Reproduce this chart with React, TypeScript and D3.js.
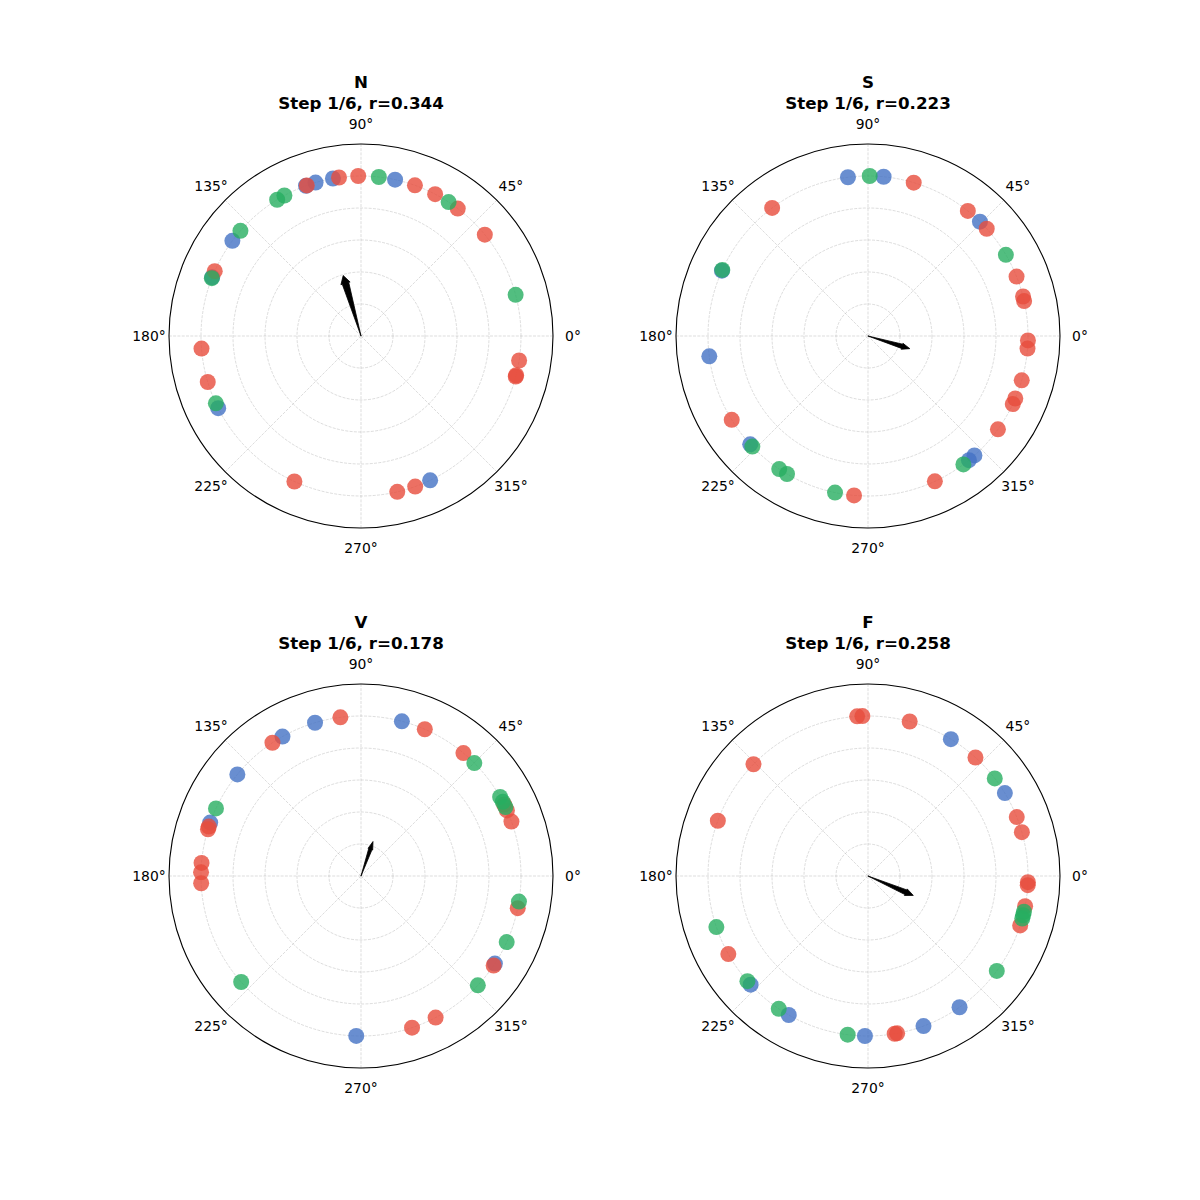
import * as d3 from 'd3';
import { useEffect, useRef } from 'react';

// angles in degrees, all points sit on r = 1
const nBlue = [77.7, 100.1, 106.5, 110.1, 143.5, 158.5, 206.8, 295.6];
const nRed = [91, 97.9, 109.8, 70.3, 62.4, 52.8, 39.3, 156.1, 184.5, 196.7, 351.2, 345.3, 345.8, 245.4, 283.1, 289.8];
const nGreen = [83.6, 56.8, 14.9, 118.6, 121.6, 138.9, 158.8, 204.9];

const sBlue = [97.2, 84.4, 45.6, 155.9, 187.3, 222.6, 311.7, 309.1];
const sRed = [73.4, 51.4, 42.1, 21.8, 14.3, 12.6, 358.4, 355.5, 343.9, 337, 334.8, 324.3, 294.7, 265, 211.6, 126.8];
const sGreen = [89.4, 30.5, 155.6, 223.7, 236.3, 239.6, 258.1, 306.6];

const vBlue = [106.7, 119.4, 140.6, 160.5, 75.2, 326.8, 268.3];
const vRed = [97.4, 123.6, 162, 163, 175.3, 178.7, 182.6, 66.5, 50.2, 26.5, 24.2, 19.9, 348.4, 326, 297.8, 288.6];
const vGreen = [44.9, 29.6, 27.6, 25.5, 155, 350.8, 335.6, 316.9, 221.5];

const fBlue = [58.8, 31.2, 222.8, 240.3, 268.9, 290.3, 304.9];
const fRed = [93.9, 92, 74.9, 47.8, 21.6, 15.9, 357.8, 356.7, 349.1, 342, 135.7, 159.8, 209.2, 279.6, 280.5];
const fGreen = [37.6, 347.1, 345.8, 344.6, 323.6, 198.6, 221.1, 236.1, 262.7];

const panelNames = ['N', 'S', 'V', 'F'];
const meanR = [0.344, 0.223, 0.178, 0.258];
const meanAngle = [106.4, 343.2, 70.8, 336.8];
const angleTicks = [0, 45, 90, 135, 180, 225, 270, 315];
const radialTicks = [0.2, 0.4, 0.6, 0.8, 1.0];

const colors = { blue: '#4472c4', red: '#e74c3c', green: '#27ae60' };

const App = () => {
    const svgRef = useRef<SVGSVGElement>(null);

    useEffect(() => {
        const svg = d3.select(svgRef.current);
        svg.selectAll('*').remove();

        const panels = [
            { blue: nBlue, red: nRed, green: nGreen },
            { blue: sBlue, red: sRed, green: sGreen },
            { blue: vBlue, red: vRed, green: vGreen },
            { blue: fBlue, red: fRed, green: fGreen },
        ];
        const centers = [[361, 336], [868, 336], [361, 876], [868, 876]];

        const rScale = d3.scaleLinear().domain([0, 1.2]).range([0, 192]);
        const rad = (deg: number) => (deg * Math.PI) / 180;
        const px = (deg: number, r: number) => rScale(r) * Math.cos(rad(deg));
        const py = (deg: number, r: number) => -rScale(r) * Math.sin(rad(deg));

        panels.forEach((p, i) => {
            const [cx, cy] = centers[i];
            const g = svg.append('g').attr('transform', `translate(${cx},${cy})`);

            // grid circles
            g.selectAll('.rgrid')
                .data(radialTicks)
                .enter()
                .append('circle')
                .attr('r', (d) => rScale(d))
                .attr('fill', 'none')
                .attr('stroke', '#b0b0b0')
                .attr('stroke-opacity', 0.55)
                .attr('stroke-width', 0.8)
                .attr('stroke-dasharray', '3,1.3');

            // angular grid
            g.selectAll('.tgrid')
                .data(angleTicks)
                .enter()
                .append('line')
                .attr('x1', 0)
                .attr('y1', 0)
                .attr('x2', (d) => px(d, 1.2))
                .attr('y2', (d) => py(d, 1.2))
                .attr('stroke', '#b0b0b0')
                .attr('stroke-opacity', 0.55)
                .attr('stroke-width', 0.8)
                .attr('stroke-dasharray', '3,1.3');

            // outer spine
            g.append('circle')
                .attr('r', rScale(1.2))
                .attr('fill', 'none')
                .attr('stroke', '#000')
                .attr('stroke-width', 1.1);

            // angle labels
            g.selectAll('.tlabel')
                .data(angleTicks)
                .enter()
                .append('text')
                .attr('x', (d) => rScale(1.325) * Math.cos(rad(d)))
                .attr('y', (d) => -rScale(1.325) * Math.sin(rad(d)))
                .attr('text-anchor', 'middle')
                .attr('dominant-baseline', 'central')
                .attr('font-family', 'DejaVu Sans')
                .attr('font-size', 13.9)
                .text((d) => `${d}°`);

            // points
            (['blue', 'red', 'green'] as const).forEach((key) => {
                g.selectAll(`.pt-${key}`)
                    .data(p[key])
                    .enter()
                    .append('circle')
                    .attr('cx', (d) => px(d, 1))
                    .attr('cy', (d) => py(d, 1))
                    .attr('r', 8)
                    .attr('fill', colors[key])
                    .attr('fill-opacity', 0.8);
            });

            // mean vector arrow (drawn as polar wedge)
            const th = meanAngle[i];
            const R = meanR[i];
            const w = 3.5; // body half-width in degrees
            const hw = 5; // head half-width in degrees
            const hl = 0.05;
            const pts: [number, number][] = [
                [th, 0],
                [th - w, R],
                [th - hw, R],
                [th, R + hl],
                [th + hw, R],
                [th + w, R],
            ];
            g.append('path')
                .attr('d', d3.line()(pts.map(([a, r]) => [px(a, r), py(a, r)]))! + 'Z')
                .attr('fill', '#000')
                .attr('stroke', '#000')
                .attr('stroke-width', 0.8)
                .attr('stroke-linejoin', 'miter');

            // titles
            g.append('text')
                .attr('x', 0)
                .attr('y', -254)
                .attr('text-anchor', 'middle')
                .attr('dominant-baseline', 'central')
                .attr('font-family', 'DejaVu Sans')
                .attr('font-weight', 'bold')
                .attr('font-size', 16.7)
                .text(panelNames[i]);
            g.append('text')
                .attr('x', 0)
                .attr('y', -233)
                .attr('text-anchor', 'middle')
                .attr('dominant-baseline', 'central')
                .attr('font-family', 'DejaVu Sans')
                .attr('font-weight', 'bold')
                .attr('font-size', 16.7)
                .text(`Step 1/6, r=${meanR[i].toFixed(3)}`);
        });
    }, []);

    return (
        <svg
            ref={svgRef}
            width={1200}
            height={1200}
            style={{ position: 'absolute', left: 0, top: 0, background: '#fff' }}
        ></svg>
    );
};

export default App;
